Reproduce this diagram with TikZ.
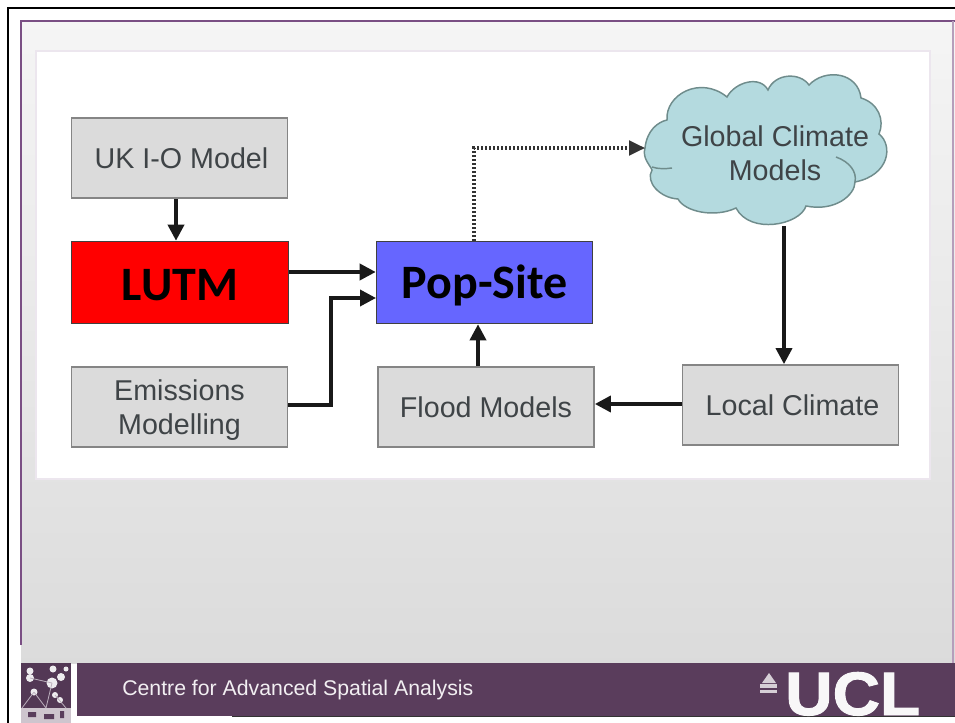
\documentclass[tikz,border=0pt]{standalone}
\usepackage{fontspec}
\setmainfont{Liberation Sans}
\newfontfamily\calb{Carlito}[BoldFont=Carlito Bold]
\newfontfamily\uclfont{Liberation Sans}[UprightFont={* Bold},FakeBold=1.6,FakeStretch=1.07]
\usetikzlibrary{arrows.meta}
\definecolor{barpurple}{HTML}{5A3D5C}
\definecolor{edgepurple}{HTML}{7A4F84}
\definecolor{cloudfill}{HTML}{B4DADF}
\definecolor{cloudline}{HTML}{6F8C8C}
\definecolor{boxfill}{HTML}{DBDBDB}
\definecolor{boxline}{HTML}{858585}
\definecolor{labelgrey}{HTML}{3F4447}
\tikzset{
  px/.style={x=0.75pt,y=-0.75pt},
  greybox/.style={draw=boxline,line width=1.3pt,fill=boxfill,minimum width=162pt,minimum height=60pt,inner sep=0pt,align=center,font=\fontsize{21.5}{25.5}\selectfont,text=labelgrey},
  strongbox/.style={draw=black!75,line width=.7pt,minimum width=162.5pt,minimum height=62pt,inner sep=0pt,font=\calb\bfseries\fontsize{36}{40}\selectfont,text=black},
  link/.style={draw=black!90,line width=2.7pt,-{Triangle[length=12pt,width=12pt]}},
  dotlink/.style={draw=black!80,line width=2.3pt,dash pattern=on 1.5pt off 1.5pt,-{Triangle[length=12pt,width=11pt]}},
  cloudshape/.style={draw=cloudline,line width=1.1pt,fill=cloudfill},
  logodot/.style={fill=white!90!barpurple,draw=none},
}
\begin{document}
\begin{tikzpicture}[px]
\useasboundingbox (0,0) rectangle (955,723);
\fill[white] (0,0) rectangle (955,723);
% page background
\shade[top color=white!96!black,bottom color=white!86!black] (21,21) rectangle (955,663);
\draw[edgepurple,line width=.9pt] (21,645) -- (21,21) -- (955,21);
\draw[edgepurple!55,line width=.8pt] (953,21) -- (953,663);
\draw[black,line width=2.2pt] (8,723) -- (8,8) -- (955,8);
% white panel
\fill[white,draw=edgepurple!14,line width=.8pt] (36,51) rectangle (930,479);
% boxes
\node[greybox] (uk) at (179.5,158) {\kern3pt UK I-O Model};
\node[strongbox,fill=red] (lutm) at (180,282.5) {\raisebox{-2.2pt}[\height][\depth]{LUTM}};
\node[strongbox,fill={rgb,255:red,102;green,102;blue,255}] (pop) at (484.5,282.5) {\raisebox{-2.2pt}[\height][\depth]{Pop-Site}};
\node[greybox] (emis) at (179.5,407) {\raisebox{-2.6pt}[\height][\depth]{\begin{minipage}{150pt}\centering Emissions\\Modelling\end{minipage}}};
\node[greybox] (flood) at (486,407) {Flood Models};
\node[greybox] (local) at (790.5,405) {\kern3pt Local Climate};
% cloud
\draw[cloudshape] (645,148)
  .. controls (647,130) and (658,122) .. (667,120)
  .. controls (665,95) and (700,75) .. (727,97)
  .. controls (735,82) and (760,75) .. (768,90)
  .. controls (775,73) and (800,72) .. (809,85)
  .. controls (825,68) and (858,72) .. (861,98)
  .. controls (878,103) and (885,120) .. (879,134)
  .. controls (893,145) and (890,175) .. (855,182)
  .. controls (855,195) and (835,212) .. (806,206)
  .. controls (800,225) and (750,235) .. (736,208)
  .. controls (715,218) and (685,212) .. (678,199)
  .. controls (660,198) and (645,182) .. (652,170)
  .. controls (650,165) and (642,158) .. (645,148) -- cycle;
\draw[cloudline,line width=1.1pt] (652,167) .. controls (658,169) and (665,169) .. (672,168);
\draw[cloudline,line width=1.1pt] (836,157) .. controls (850,162) and (857,172) .. (855,182);
\node[font=\fontsize{21.5}{25.5}\selectfont,text=labelgrey,align=center,inner sep=0pt] (cloud) at (775,153) {Global Climate\\Models};
\coordinate (cloudin) at (645,148);
\coordinate (cloudout) at (784,226);
\coordinate (popup) at (474,241);
\coordinate (popin) at (376,298);
% connectors
\draw[link] (uk.south -| 176,0) -- (lutm.north -| 176,0);
\draw[link] (lutm.east |- 0,272) -- (pop.west |- 0,272);
\draw[link] (emis.east |- 0,405) -- (331,405) -- (331,298) -- (popin);
\draw[link] (flood.north -| 478,0) -- (pop.south -| 478,0);
\draw[link] (local.west |- 0,404) -- (flood.east |- 0,404);
\draw[link] (cloudout) -- (local.north -| 784,0);
\draw[dotlink] (popup) -- (474,148) -- (cloudin);
% footer
\fill[barpurple] (77,663) rectangle (955,716);
\draw[black!80,line width=.6pt] (232,716.5) -- (955,716.5);
\node[anchor=west,inner sep=0pt,text=white!92!barpurple,font=\fontsize{15.95}{18}\selectfont] (centre) at (122,690) {Centre for Advanced Spatial Analysis};
\node[anchor=base west,inner sep=0pt,text=white!96!barpurple,font=\uclfont\fontsize{46}{50}\selectfont] (ucl) at (785,715) {UCL};
% crest
\fill[white!75!barpurple] (769,673) -- (776,683) -- (762,683) -- cycle;
\fill[white!75!barpurple] (760,684) rectangle (777,688);
\fill[white!75!barpurple] (760,690) rectangle (777,693);
% logo
\fill[barpurple!92!black] (21,663) rectangle (71,708);
\fill[white!70!barpurple] (21,708) rectangle (71,723);
\foreach \a/\b/\r in {30/671/3.5,30/678/4,53/669/3.5,66/669/2.5,52/683/5.5,61/677/4,55/695/3,34/692/3.5,60/700/3}{
  \fill[logodot] (\a,\b) circle[radius=\r*.75pt];
}
\draw[white!60!barpurple,line width=.6pt] (34,692) -- (22,708) (34,692) -- (46,708) (52,683) -- (46,708) (52,683) -- (30,678) (55,695) -- (66,708);
\fill[barpurple] (28,712) rectangle (36,717) (44,714) rectangle (54,719) (60,711) rectangle (64,718);
\end{tikzpicture}
\end{document}
